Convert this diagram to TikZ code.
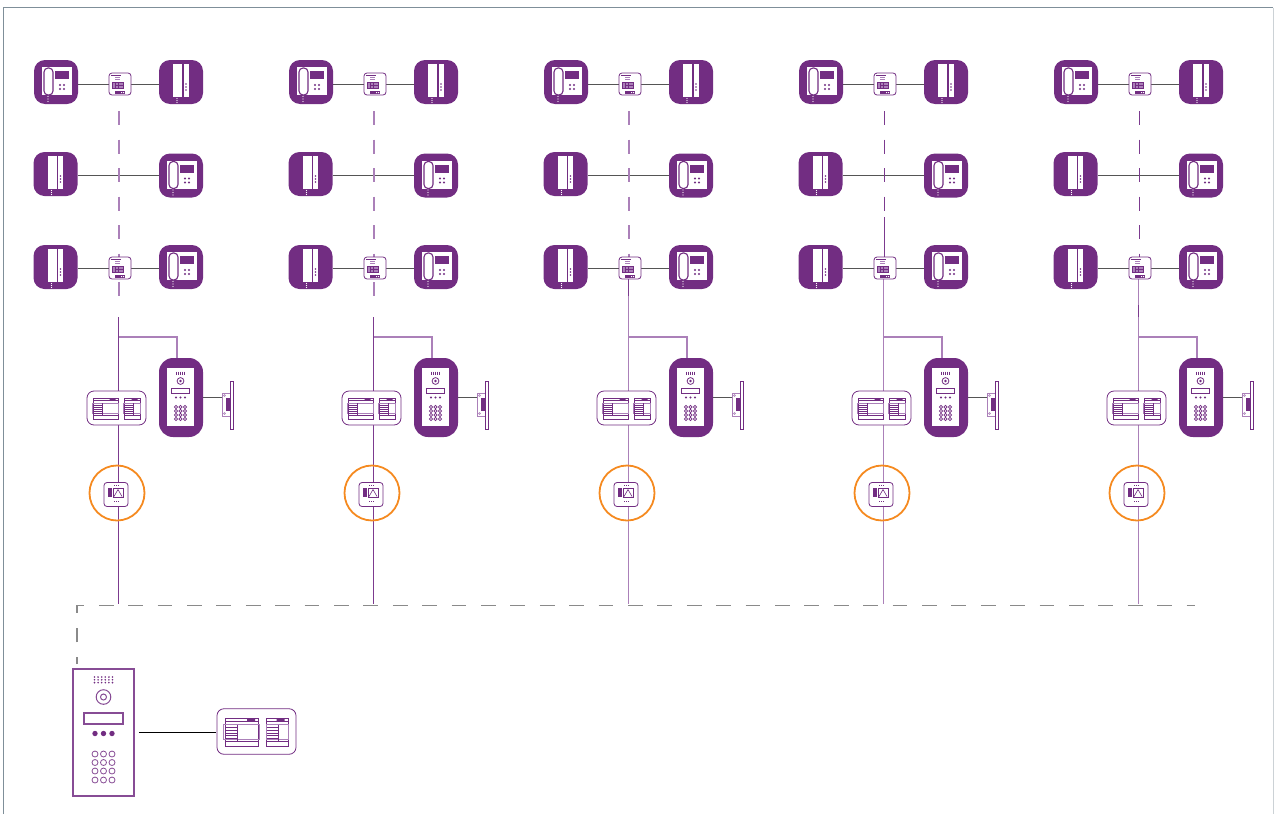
\documentclass[tikz,border=0pt]{standalone}
\usetikzlibrary{calc,backgrounds}
\definecolor{devpurple}{HTML}{722D82}
\definecolor{lilac}{HTML}{AB80B9}
\definecolor{midpurple}{HTML}{7C3A8F}
\definecolor{wiregrey}{HTML}{555555}
\definecolor{busgrey}{HTML}{8A8A8A}
\definecolor{ringorange}{HTML}{F58A20}
\definecolor{framegrey}{HTML}{7F8F99}
\newcommand{\devcolor}{devpurple}
\newcommand{\thinline}{0.8pt}
\tikzset{
  devbox/.style={fill=\devcolor, inner sep=0pt, minimum size=44pt, rounded corners=11pt},
  doorbox/.style={fill=\devcolor, inner sep=0pt, minimum width=44pt, minimum height=79pt, rounded corners=14pt},
  smallbox/.style={draw=\devcolor, fill=white, line width=\thinline, inner sep=0pt, minimum size=22pt, rounded corners=3pt},
  psubox/.style={draw=\devcolor, fill=white, line width=\thinline, inner sep=0pt, minimum width=59pt, minimum height=34pt, rounded corners=7pt},
  ringnode/.style={circle, draw=ringorange, line width=1.8pt, inner sep=0pt, minimum size=55pt},
  openerbox/.style={draw=lilac, fill=white, line width=\thinline, inner sep=0pt, minimum width=8pt, minimum height=23pt},
  panelbox/.style={draw=\devcolor!85!white, fill=white, line width=1.5pt, inner sep=0pt, minimum width=61pt, minimum height=127pt},
  wire/.style={draw=wiregrey, line width=1pt},
  darkbus/.style={draw=midpurple, line width=1pt},
  lightbus/.style={draw=lilac, line width=1.4pt},
  darkdash/.style={draw=midpurple, line width=1pt, dash pattern=on 14pt off 14.5pt},
  lightdash/.style={draw=lilac, line width=1.3pt, dash pattern=on 14pt off 14.5pt},
  greydash/.style={draw=busgrey, line width=1.4pt, dash pattern=on 14.7pt off 14.7pt, dash phase=7.7pt},
  % handset monitor
  phone/.pic={
    \node[devbox] (-frame) at (0,0) {};
    \fill[white] (-14,-15) rectangle (16,13);
    \fill[\devcolor] (-1,-11) rectangle (13,-3);
    \draw[\devcolor, fill=white, line width=1.1pt, rounded corners=4pt] (-12,-14) rectangle (-3,13);
    \foreach \i in {4,8} \foreach \j in {3,7} \fill[\devcolor] (\i,\j) circle (1.1);
    \foreach \j in {14.5,17,19.5} \fill[white] (-8,\j) circle (0.6);
  },
  % slim monitor
  slim/.pic={
    \node[devbox] (-frame) at (0,0) {};
    \fill[white] (-8,-18) rectangle (1,15);
    \fill[white] (2.5,-18) rectangle (7.5,15);
    \foreach \j in {2,5,8} \fill[\devcolor] (5,\j) circle (0.8);
    \foreach \j in {16.5,18.5,20.5} \fill[white] (-4,\j) circle (0.6);
  },
  % floor switch
  switchbox/.pic={
    \node[smallbox] (-box) at (0,0) {};
    \fill[\devcolor] (-9.5,-9.5) rectangle (1,-8);
    \draw[lilac, line width=0.6pt] (-5,-6.5) -- (0,-6.5) (-5,-4.5) -- (0,-4.5);
    \draw[\devcolor, fill=lilac, line width=0.7pt] (-8,-2) rectangle (3,4);
    \draw[\devcolor, line width=0.6pt] (-5,-2) -- (-5,4) (-1.5,-2) -- (-1.5,4) (-5,1) -- (3,1);
    \fill[\devcolor] (-5,7) rectangle (5,10);
    \fill[white] (1,8) rectangle (2,9) (3,8) rectangle (4,9);
  },
  % power supply pair
  psu/.pic={
    \node[psubox] (-frame) at (0,0) {};
    \draw[\devcolor, line width=\thinline] (-23.5,-10) rectangle (1.5,11);
    \draw[\devcolor, line width=\thinline] (7.5,-10) rectangle (23.5,11);
    \draw[\devcolor, line width=0.6pt] (-23.5,-7.5) -- (1.5,-7.5) (7.5,-7.5) -- (23.5,-7.5);
    \draw[\devcolor, line width=0.6pt] (-23.5,7.5) -- (1.5,7.5) (7.5,7.5) -- (23.5,7.5);
    \fill[\devcolor] (-7,-10) rectangle (-1,-8) (15,-10) rectangle (21,-8);
    \draw[lilac, line width=0.7pt] (-24.5,-5) rectangle (2,5.5) (7,-5) rectangle (23.5,5.5);
    \draw[\devcolor, line width=0.5pt] (-14,-5) -- (-14,7.5) (16.5,-5) -- (16.5,7.5);
    \foreach \j in {-3,-1,1,3,5} {
      \draw[\devcolor, line width=0.5pt] (-23.5,\j) -- (-14,\j);
      \draw[\devcolor, line width=0.5pt] (7.5,\j) -- (16.5,\j);
    }
  },
  % door panel on purple
  doorpanel/.pic={
    \node[doorbox] (-frame) at (0,0) {};
    \fill[white] (-14,-30) rectangle (13,28.5);
    \foreach \i in {-4.5,-2.5,-0.5,1.5,3.5} \draw[\devcolor, line width=0.6pt] (\i,-26) -- (\i,-23);
    \draw[\devcolor, line width=\thinline] (-0.5,-16.5) circle (3.4);
    \fill[\devcolor] (-0.5,-16.5) circle (1.3);
    \draw[\devcolor, line width=\thinline] (-10,-9.5) rectangle (8,-4.5);
    \foreach \i in {-5,-0.5,4} {
      \fill[\devcolor] (\i,0) circle (1.2);
      \foreach \j in {9.5,13.5,17.5,21.5} \draw[\devcolor, line width=0.7pt] (\i,\j) circle (1.7);
    }
  },
  % door opener
  opener/.pic={
    \node[openerbox] (-box) at (0,0) {};
    \draw[\devcolor, fill=white, line width=\thinline] (4.5,-23.5) rectangle (7,24.5);
    \fill[\devcolor] (0,-7) rectangle (4,6);
    \foreach \j in {-9,9} \draw[lilac, line width=0.5pt] (-1.5,\j) circle (1);
  },
  % socket inside the ring
  socket/.pic={
    \node[smallbox, minimum size=24pt] (-box) at (0,0) {};
    \fill[\devcolor] (-8,-6.5) rectangle (-4,2.5);
    \draw[\devcolor, line width=0.7pt] (-3,-6.5) rectangle (7,2.5);
    \draw[\devcolor, line width=0.6pt] (-2,2) -- (2,-5) -- (6,2);
    \foreach \i in {-1,1,3} \fill[\devcolor] (\i-1,-10) rectangle +(1,1.5);
    \foreach \i in {-1,1,3} \fill[\devcolor] (\i-1,6) rectangle +(1,1.5);
  },
}

\begin{document}
\begin{tikzpicture}[x=1pt,y=-1pt]
\useasboundingbox (0,0) rectangle (1274,814);
% outer frame
\draw[framegrey, line width=0.8pt] (3.5,814) -- (3.5,7.5) -- (1273,7.5);
\draw[framegrey!40!white, line width=0.8pt] (1273,7.5) -- (1273,814);
% one riser for every column
\foreach \c in {0,1,2,3,4} {
  \pic (a\c) at (56+255*\c,82) {phone};
  \pic (s\c) at (120+255*\c,84) {switchbox};
  \pic (b\c) at (181+255*\c,82) {slim};
  \pic (e\c) at (55.5+255*\c,174) {slim};
  \pic (f\c) at (181+255*\c,175.5) {phone};
  \pic (g\c) at (55.5+255*\c,267) {slim};
  \pic (t\c) at (120+255*\c,268) {switchbox};
  \pic (h\c) at (181+255*\c,267) {phone};
  \pic (door\c) at (181+255*\c,397.5) {doorpanel};
  \pic (open\c) at (226+255*\c,404.5) {opener};
  \pic (psu\c) at (116.5+255*\c,408) {psu};
  \pic (sock\c) at (116+255*\c,494.5) {socket};
  \node[ringnode] (ring\c) at (117+255*\c,493) {};
  \coordinate (top\c) at (119+255*\c,111);
  \coordinate (low\c) at (119+255*\c,296);
  \coordinate (riser\c) at (118.5+255*\c,317);
  \coordinate (tee\c) at (118.5+255*\c,337);
  \coordinate (foot\c) at (118.5+255*\c,604);
  \begin{scope}[on background layer]
  \draw[wire] (s\c-box.west) -- (s\c-box.west -| a\c-frame.east);
  \draw[wire] (s\c-box.east) -- (s\c-box.east -| b\c-frame.west);
  \draw[wire] (f\c-frame.west) -- (f\c-frame.west -| e\c-frame.east);
  \draw[wire] (t\c-box.west) -- (t\c-box.west -| g\c-frame.east);
  \draw[wire] (t\c-box.east) -- (t\c-box.east -| h\c-frame.west);
  \draw[wire] (door\c-frame.east) -- (door\c-frame.east -| open\c-box.west);
  \draw[lightbus] (tee\c) -| ([xshift=-4pt]door\c-frame.north);
  \end{scope}
}
%column 1
\begin{scope}[on background layer]
\draw[lightdash] (top0) -- (low0);
\draw[darkbus] (riser0) -- (foot0);
\end{scope}
%column 2
\begin{scope}[on background layer]
\draw[lightdash] (top1) -- (low1);
\draw[darkbus] (riser1) -- (foot1);
\end{scope}
%column 3
\begin{scope}[on background layer]
\draw[lightdash] (top2) -- (top2 |- t2-box.north);
\draw[lightbus] (foot2 |- t2-box.south) -- (foot2);
\draw[darkbus] (foot2 |- t2-box.south) -- (foot2 |- low2);
\end{scope}
%column 4
\coordinate (solid3) at (884,217);
\begin{scope}[on background layer]
\draw[darkdash] (top3) -- (solid3);
\draw[darkbus] (solid3) -- (solid3 |- t3-box.north);
\draw[lightbus] (foot3 |- t3-box.south) -- (foot3);
\end{scope}
%column 5
\coordinate (mark4a) at (1138.5,305);
\begin{scope}[on background layer]
\draw[darkdash] (top4) -- (top4 |- t4-box.north);
\draw[lightbus, line width=1.8pt] (foot4 |- t4-box.south) -- (foot4);
\draw[darkbus] (mark4a) -- (riser4);
\end{scope}
%entrance panel
\node[panelbox] (panel) at (103.5,732.5) {};
\foreach \i in {0,...,5} \foreach \j in {0,1,2} \fill[\devcolor] (94.5+3.6*\i,677+2.8*\j) circle (0.9);
\draw[\devcolor!85!white, line width=1pt] (103.5,697) circle (7.3);
\draw[\devcolor!85!white, line width=1pt] (103.5,697) circle (3);
\draw[\devcolor!85!white, line width=1.3pt] (84,713) rectangle (123,724);
\foreach \i in {95,103.5,112} {
  \fill[\devcolor] (\i,733.5) circle (2.7);
  \foreach \j in {754,762.5,771,780} \draw[\devcolor!85!white, line width=0.8pt] (\i,\j) circle (3);
}
\pic[scale=1.34, transform shape] (mainpsu) at (256.5,731.5) {psu};
\draw[black, line width=1.3pt, shorten <=4pt] (panel.east) -- (panel.east -| mainpsu-frame.west);
%bus
\coordinate (busa) at (77,664);
\coordinate (busb) at (77,605.3);
\coordinate (busc) at (1195,605.3);
\draw[greydash] (busa) -- (busb) -- (busc);
\end{tikzpicture}
\end{document}
